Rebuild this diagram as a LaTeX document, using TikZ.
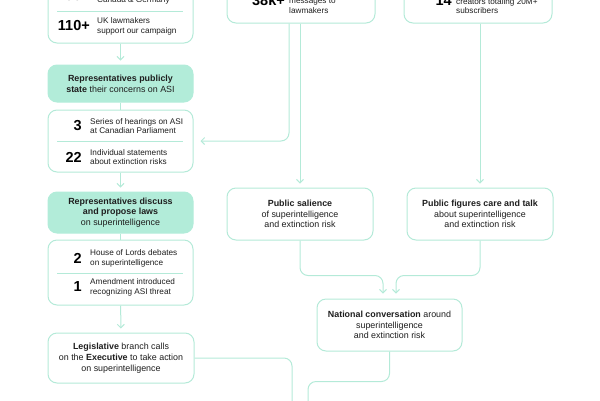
\documentclass[tikz,border=0pt]{standalone}
\usepackage{fontspec}
\setmainfont{Liberation Sans}
\usetikzlibrary{arrows.meta,calc}
\definecolor{mint}{HTML}{B2ECD9}
\definecolor{edge}{HTML}{B4EAD8}
\definecolor{ink}{HTML}{1E1E1E}
\begin{document}
\begin{tikzpicture}[x=1pt,y=-1pt,
  box/.style={draw=edge, line width=1pt, rounded corners=9pt, fill=white, align=center, text=ink, font=\fontsize{8.9}{10.8}\selectfont, inner sep=0pt},
  gbox/.style={box, fill=mint, draw=mint},
  num/.style={anchor=east, font=\fontsize{14.5}{15}\selectfont\bfseries, text=black, inner sep=0pt},
  lab/.style={anchor=west, align=left, font=\fontsize{8.2}{9.8}\selectfont, text=ink, inner sep=0pt},
  sepline/.style={draw=edge, line width=0.9pt},
  conn/.style={draw=edge, line width=1pt, rounded corners=8pt},
  arr/.style={conn, -{Straight Barb[length=3.5pt,width=7pt]}, shorten >=4pt}]
\useasboundingbox (0,0) rectangle (600,400);
\clip (0,0) rectangle (600,400);

% left column
\node[box, minimum width=145pt, minimum height=83pt] (s1) at (120.5,1.5) {};
\draw[sepline] (57,11) -- (183,11);
\node[num] (n1a) at (90,-4) {100+};
\node[lab] (l1a) at (97,0.5) {Canada \& Germany};
\node[num] (n1b) at (90,26) {110+};
\node[lab] (l1b) at (97,26) {UK lawmakers\\support our campaign};

\node[gbox, minimum width=145pt, minimum height=37pt] (g1) at (120.5,83.5) {\textbf{Representatives publicly}\\\textbf{state} their concerns on ASI};

\node[box, minimum width=145pt, minimum height=62pt] (s2) at (120.5,141) {};
\draw[sepline] (57,141) -- (183,141);
\node[num] (n2a) at (82,126) {3};
\node[lab] (l2a) at (90,126) {Series of hearings on ASI\\at Canadian Parliament};
\node[num] (n2b) at (82,157) {22};
\node[lab] (l2b) at (90,157) {Individual statements\\about extinction risks};

\node[gbox, minimum width=145pt, minimum height=41pt] (g2) at (120.5,212.5) {\textbf{Representatives discuss}\\\textbf{and propose laws}\\on superintelligence};

\node[box, minimum width=145pt, minimum height=65pt] (s3) at (120.5,272.5) {};
\draw[sepline] (57,273) -- (183,273);
\node[num] (n3a) at (82,258) {2};
\node[lab] (l3a) at (90,258) {House of Lords debates\\on superintelligence};
\node[num] (n3b) at (82,287) {1};
\node[lab] (l3b) at (90,287) {Amendment introduced\\recognizing ASI threat};

\node[box, minimum width=146pt, minimum height=50pt] (leg) at (121,358) {\textbf{Legislative} branch calls\\on the \textbf{Executive} to take action\\on superintelligence};

% middle column
\node[box, minimum width=148pt, minimum height=63pt] (mtop) at (301,-8.5) {};
\node[num] (nm) at (285,0) {38k+};
\node[lab] (lm) at (289,5.5) {messages to\\lawmakers};

\node[box, minimum width=146pt, minimum height=52pt] (sal) at (300,214) {\textbf{Public salience}\\of superintelligence\\and extinction risk};

% right column
\node[box, minimum width=148pt, minimum height=63pt] (rtop) at (478,-8.5) {};
\node[num] (nr) at (452,1) {14};
\node[lab] (lr) at (456,6) {creators totaling 20M+\\subscribers};

\node[box, minimum width=146pt, minimum height=52pt] (fig) at (480,214) {\textbf{Public figures care and talk}\\about superintelligence\\and extinction risk};

\node[box, minimum width=145pt, minimum height=52pt] (nat) at (389.5,325) {\textbf{National conversation} around\\superintelligence\\and extinction risk};

\coordinate (e1) at (308,410);
\coordinate (e2) at (292,410);

% connectors
\draw[arr] (s1) -- (g1);
\draw[conn] (g1) -- (s2);
\draw[arr] (s2) -- (g2);
\draw[conn] (g2) -- (s3);
\draw[arr] (s3) -- (leg);
\draw[arr, shorten >=7pt] ([xshift=-12pt]mtop.south) |- (s2.east);
\draw[arr] (sal.north |- mtop.south) -- (sal.north);
\draw[arr] (fig.north |- rtop.south) -- (fig.north);
\draw[arr, shorten >=5pt] (sal.south) -- ++(0,35) -| ([xshift=-6.5pt]nat.north);
\draw[arr, shorten >=5pt] (fig.south) -- ++(0,35) -| ([xshift=6.5pt]nat.north);
\draw[conn] (nat.south) -- ++(0,30) -| (e1);
\draw[conn] (leg.east) -| (e2);
\end{tikzpicture}
\end{document}
